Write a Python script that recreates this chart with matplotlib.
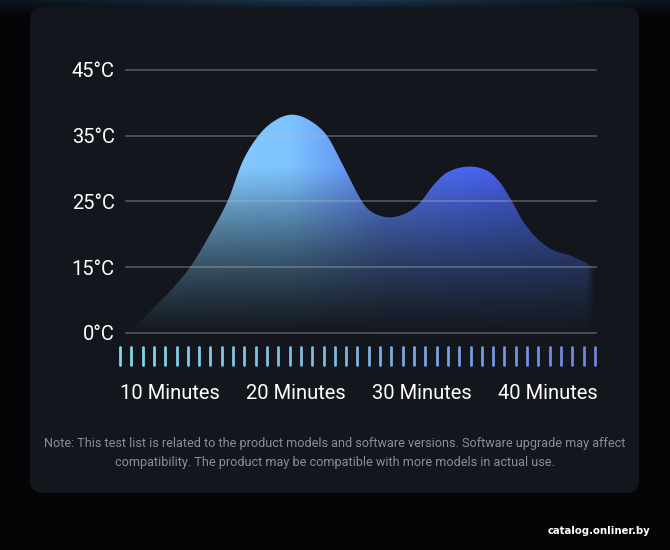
import numpy as np
import matplotlib
matplotlib.use("Agg")
import matplotlib.pyplot as plt
from matplotlib.patches import FancyBboxPatch
from matplotlib.colors import LinearSegmentedColormap, to_rgb

# ---------------- data ----------------
minutes = [6.6, 7.86, 9.21, 10.24, 11.59, 13.17, 14.60, 15.79, 17.14, 18.49,
           19.76, 21.11, 22.46, 23.73, 25.24, 26.11, 27.46, 28.81, 29.84, 30.87,
           31.98, 33.65, 35.16, 36.19, 37.14, 38.02, 39.13, 40.40, 41.75, 43.10, 43.89]
temps = [0.5, 3.3, 7.2, 10.3, 15.0, 20.0, 25.2, 31.2, 35.3, 37.5,
         38.2, 37.3, 35.0, 30.5, 25.0, 23.3, 22.6, 23.3, 24.8, 27.4,
         29.4, 30.3, 29.7, 27.9, 25.0, 22.0, 19.4, 17.6, 16.8, 15.6, 14.5]
y_ticks = [0, 15, 25, 35, 45]
y_labels = ["0°C", "15°C", "25°C", "35°C", "45°C"]
x_ticks = [10, 20, 30, 40]
x_labels = ["10 Minutes", "20 Minutes", "30 Minutes", "40 Minutes"]
n_marks = 43
note = ("Note: This test list is related to the product models and software versions. "
        "Software upgrade may affect\ncompatibility. The product may be compatible "
        "with more models in actual use.")
watermark = "catalog.onliner.by"

# ---------------- figure ----------------
W, H = 670, 550
fig = plt.figure(figsize=(W / 100, H / 100), dpi=100)
fig.patch.set_facecolor("#040506")

def px_axes(x0, y0, x1, y1, **kw):
    """axes from pixel box (top-left origin)"""
    return fig.add_axes([x0 / W, (H - y1) / H, (x1 - x0) / W, (y1 - y0) / H], **kw)

# background with top glow strip
bg_ax = fig.add_axes([0, 0, 1, 1], zorder=-5)
bg_ax.set_axis_off()
grad = np.zeros((H, W, 4))
gx = np.linspace(-1, 1, W)
glow = np.clip(1 - np.abs(gx) * 0.7, 0, 1)
rows = np.arange(H)
strip = np.clip(1 - rows / 16.0, 0, 1)[:, None] * glow[None, :]
base = np.array(to_rgb("#040506"))
blue = np.array(to_rgb("#1d3650"))
grad[..., :3] = base + (blue - base) * strip[..., None]
grad[..., 3] = 1
bg_ax.imshow(grad, extent=(0, 1, 0, 1), aspect="auto", origin="upper")
bg_ax.set_xlim(0, 1); bg_ax.set_ylim(0, 1)

# panel (inch coordinates so the rounding stays circular)
panel = FancyBboxPatch((30 / 100, (H - 493) / 100), (639 - 30) / 100, (493 - 7) / 100,
                       boxstyle="round,pad=0,rounding_size=0.13",
                       transform=fig.dpi_scale_trans, fc="#13161c", ec="none", zorder=-4)
fig.patches.append(panel)

# ---------------- main axes ----------------
ax = px_axes(126, 70, 596, 333)
ax.patch.set_alpha(0)
pos = np.arange(len(y_ticks), dtype=float)
def fwd(v):
    return np.interp(v, y_ticks, pos)
def inv(p):
    return np.interp(p, pos, y_ticks)
ax.set_yscale("function", functions=(fwd, inv))
XMIN, XMAX = (126 - 44) / 12.6, (596 - 44) / 12.6

def smooth_outline(xv, yv, per=12):
    """Smooth (cubic Hermite) outline through the read points, drawn in the
    axis' own position space so the shape is smooth on screen."""
    x = np.asarray(xv, float)
    p = fwd(np.asarray(yv, float))
    n = len(x)
    m = np.zeros(n)
    m[1:-1] = (p[2:] - p[:-2]) / (x[2:] - x[:-2])
    m[0] = (p[1] - p[0]) / (x[1] - x[0])
    m[-1] = (p[-1] - p[-2]) / (x[-1] - x[-2])
    xs_out, ps_out = [], []
    for i in range(n - 1):
        h = x[i + 1] - x[i]
        t = np.linspace(0, 1, per, endpoint=False)
        h00 = 2 * t**3 - 3 * t**2 + 1
        h10 = t**3 - 2 * t**2 + t
        h01 = -2 * t**3 + 3 * t**2
        h11 = t**3 - t**2
        xs_out.append(x[i] + t * h)
        ps_out.append(h00 * p[i] + h10 * h * m[i] + h01 * p[i + 1] + h11 * h * m[i + 1])
    xs_out.append([x[-1]]); ps_out.append([p[-1]])
    return np.concatenate(xs_out), inv(np.clip(np.concatenate(ps_out), 0, 4))

sx, sy = smooth_outline(minutes, temps)
fill = ax.fill_between(sx, 0, sy, facecolor="none", edgecolor="none")

# gradient image clipped to the area
GW, GH = 400, 250
xs = np.linspace(0, 1, GW)
ys = np.linspace(0, 1, GH)
stops_x = [0.0, 0.35, 0.55, 0.73, 1.0]
stops_c = [to_rgb(c) for c in ["#8fd6ff", "#7cc3ff", "#5679ea", "#4a66f2", "#3a52cc"]]
col = np.stack([np.interp(xs, stops_x, [c[i] for c in stops_c]) for i in range(3)], axis=-1)
teal = np.array(to_rgb("#4a8aa0"))
img = np.zeros((GH, GW, 4))
mixv = np.clip((0.55 - ys) / 0.55, 0, 1) * 0.5
for j in range(GH):
    img[j, :, :3] = col * (1 - mixv[j]) + teal * mixv[j]
alpha_y = np.clip(0.03 + ys * 1.55, 0, 1) ** 1.15
alpha_x = np.clip((1.0 - xs) / 0.02, 0, 1)
img[..., 3] = alpha_y[:, None] * alpha_x[None, :]
im = ax.imshow(img, extent=(0, 1, 0, 1), transform=ax.transAxes, origin="lower",
               aspect="auto", zorder=1, interpolation="bilinear")
im.set_clip_path(fill.get_paths()[0], ax.transData)
ax.set_xlim(XMIN, XMAX)
ax.set_ylim(0, 45)
for s in ax.spines.values():
    s.set_visible(False)

# gridlines
for t in y_ticks:
    ax.axhline(t, color="#b4b8c0", alpha=0.4, lw=1.2, clip_on=False, zorder=3)

ax.set_yticks(y_ticks, y_labels)
ax.set_xticks(x_ticks, x_labels)
ax.tick_params(axis="both", length=0, colors="white")
ax.tick_params(axis="y", pad=8, labelsize=14.5)
ax.tick_params(axis="x", pad=37, labelsize=14.5)
for lab in ax.get_xticklabels() + ax.get_yticklabels():
    lab.set_fontfamily("Roboto")
    lab.set_color("white")

# ---------------- marks row ----------------
bax = px_axes(114.3, 345, 600.6, 368)
bax.set_axis_off()
bax.set_xlim(-0.5, n_marks - 0.5)
bax.set_ylim(0, 1)
cmap = LinearSegmentedColormap.from_list("m", ["#86d6e6", "#7fb2e2", "#6e84de"])
idx = np.arange(n_marks)
bax.vlines(idx, 0.12, 0.92, colors=cmap(idx / (n_marks - 1)), lw=2.0,
           capstyle="round")

# ---------------- texts ----------------
fig.text(335 / W, 1 - 453 / H, note, ha="center", va="center", color="#8b8e94",
         fontsize=9.1, family="Roboto", linespacing=1.65)
fig.text(650 / W, 1 - 531 / H, watermark, ha="right", va="center", color="white",
         fontsize=7.3, fontweight="bold", family="DejaVu Sans")

fig.savefig("out.png", dpi=100, facecolor=fig.get_facecolor())
